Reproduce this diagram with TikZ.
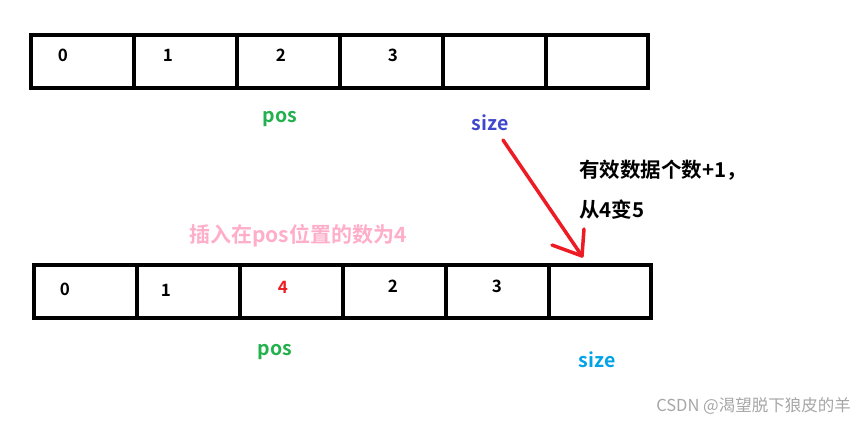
\documentclass[tikz,border=0pt]{standalone}
\usepackage{fontspec}
\setmainfont{Noto Sans CJK SC}[BoldFont={* Bold}]
\newfontfamily\cjkb{Noto Sans CJK SC Bold}
\newfontfamily\cjkr{Noto Sans CJK SC}
\definecolor{pgreen}{HTML}{22B14C}
\definecolor{pblue}{HTML}{3F48CC}
\definecolor{pcyan}{HTML}{00A2E8}
\definecolor{pred}{HTML}{ED1C24}
\definecolor{ppink}{HTML}{FFAEC9}
\tikzset{
  cell/.style={draw=black, line width=4pt, minimum width=102.9pt, minimum height=53pt, inner sep=0pt},
  digit/.style={font=\cjkb\fontsize{17}{19}\selectfont, inner sep=0pt, anchor=center},
  lbl/.style={font=\cjkb\fontsize{19.5}{22}\selectfont, inner sep=0pt},
  note/.style={font=\cjkb\fontsize{20.5}{24}\selectfont, inner sep=0pt, anchor=west},
  redline/.style={draw=pred, line width=3.5pt, line cap=round, line join=round}
}
\begin{document}
\begin{tikzpicture}[x=1pt,y=-1pt]
\useasboundingbox (0,0) rectangle (855,421);
% top array
\foreach \i in {0,...,5} {
  \node[cell] (t\i) at ({31+102.9/2+102.9*\i},61.5) {};
}
\node[digit] (td0) at (63,55) {0};
\node[digit] (td1) at (168,55) {1};
\node[digit] (td2) at (281,55) {2};
\node[digit] (td3) at (393,55) {3};
% bottom array
\foreach \i in {0,...,5} {
  \node[cell] (b\i) at ({34+102.9/2+102.9*\i},291.5) {};
}
\node[digit] (bd0) at (65,289) {0};
\node[digit] (bd1) at (166,290) {1};
\node[digit, text=pred] (bd2) at (283,287) {4};
\node[digit] (bd3) at (393,286) {2};
\node[digit] (bd4) at (497,286) {3};
% labels
\node[lbl, text=pgreen] (pos1) at (280,119) {pos};
\node[lbl, text=pblue] (size1) at (490,123) {size};
\node[lbl, text=pgreen] (pos2) at (275,352) {pos};
\node[lbl, text=pcyan] (size2) at (597,360) {size};
\node[note] (n1) at (579,170) {有效数据个数+1，};
\node[note] (n2) at (579,210) {从4变5};
\node[font=\cjkb\fontsize{21}{24}\selectfont, inner sep=0pt, text=ppink, anchor=west] (ins) at (189,236) {插入在pos位置的数为4};
\node[font=\cjkr\fontsize{16.5}{19}\selectfont, inner sep=0pt, text=black!35, anchor=east] (wm) at (851,406) {CSDN @渴望脱下狼皮的羊};
% red arrow
\coordinate (tip) at (582,256);
\coordinate (barbL) at (552,245);
\coordinate (barbU) at (584,229);
\draw[redline] (503,140) -- (tip);
\draw[redline] (barbL) -- (tip) -- (barbU);
\end{tikzpicture}
\end{document}
